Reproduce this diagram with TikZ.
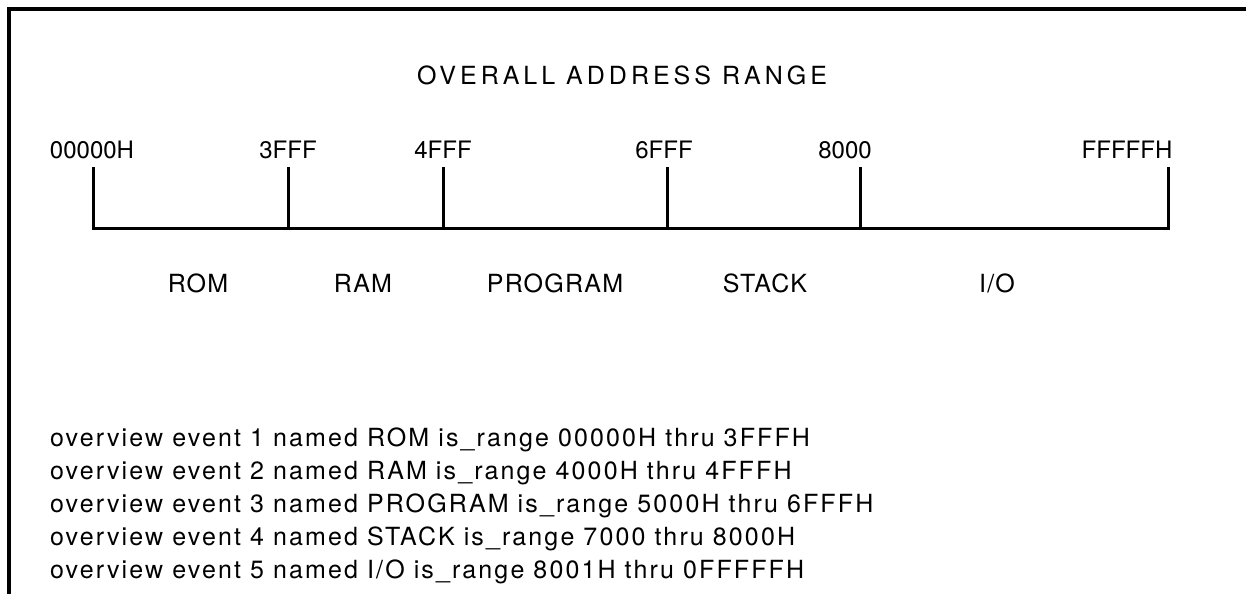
\documentclass[tikz,border=0pt]{standalone}
\usepackage{fontspec}
\setmainfont{TeX Gyre Heros}
\newfontfamily\spacedfont[LetterSpace=8.5]{TeX Gyre Heros}
\newfontfamily\segfont[LetterSpace=5]{TeX Gyre Heros}
\newfontfamily\titlefont[LetterSpace=16]{TeX Gyre Heros}
\begin{document}
\begin{tikzpicture}[x=1pt,y=-1pt,
  frameline/.style={line width=4pt},
  axisline/.style={line width=3pt},
  lbl/.style={inner sep=0pt,anchor=base,font=\fontsize{24}{28}\selectfont},
  ttl/.style={inner sep=0pt,anchor=base,font=\titlefont\fontsize{25}{28}\selectfont},
  seg/.style={inner sep=0pt,anchor=base,font=\segfont\fontsize{25}{28}\selectfont},
  evt/.style={inner sep=0pt,anchor=base west,font=\spacedfont\fontsize{25}{28}\selectfont}]
\useasboundingbox (0,0) rectangle (1246,594);
% frame (top and left edges)
\coordinate (fbl) at (9,594);
\coordinate (ftl) at (9,9);
\coordinate (ftr) at (1246,9);
\draw[frameline] (fbl) -- (ftl) -- (ftr);
% title
\node[ttl] (title) at (622,84) {OVERALL ADDRESS RANGE};
% ticks
\foreach \n/\x in {t0/93,t1/288,t2/443,t3/667,t4/860,t5/1168}{
  \coordinate (\n top) at (\x,167);
  \coordinate (\n bot) at (\x,228);
}
\draw[axisline] (t0top) -- (t0bot) -- (t5bot) -- (t5top);
\foreach \n in {t1,t2,t3,t4}{
  \draw[axisline] (\n top) -- (\n bot);
}
% address labels
\node[lbl] (a0) at (92,158) {00000H};
\node[lbl] (a1) at (288,158) {3FFF};
\node[lbl] (a2) at (443,158) {4FFF};
\node[lbl] (a3) at (664,158) {6FFF};
\node[lbl] (a4) at (845,158) {8000};
\node[lbl] (a5) at (1127,158) {FFFFFH};
% segment labels
\node[seg] (s0) at (198,292) {ROM};
\node[seg] (s1) at (363,292) {RAM};
\node[seg] (s2) at (555,292) {PROGRAM};
\node[seg] (s3) at (765,292) {STACK};
\node[seg] (s4) at (997,292) {I/O};
% event lines
\node[evt] (e1) at (50,446) {overview event 1 named ROM is\_range 00000H thru 3FFFH};
\node[evt] (e2) at (50,479) {overview event 2 named RAM is\_range 4000H thru 4FFFH};
\node[evt] (e3) at (50,512) {overview event 3 named PROGRAM is\_range 5000H thru 6FFFH};
\node[evt] (e4) at (50,545) {overview event 4 named STACK is\_range 7000 thru 8000H};
\node[evt] (e5) at (50,578) {overview event 5 named I/O is\_range 8001H thru 0FFFFFH};
\end{tikzpicture}
\end{document}
